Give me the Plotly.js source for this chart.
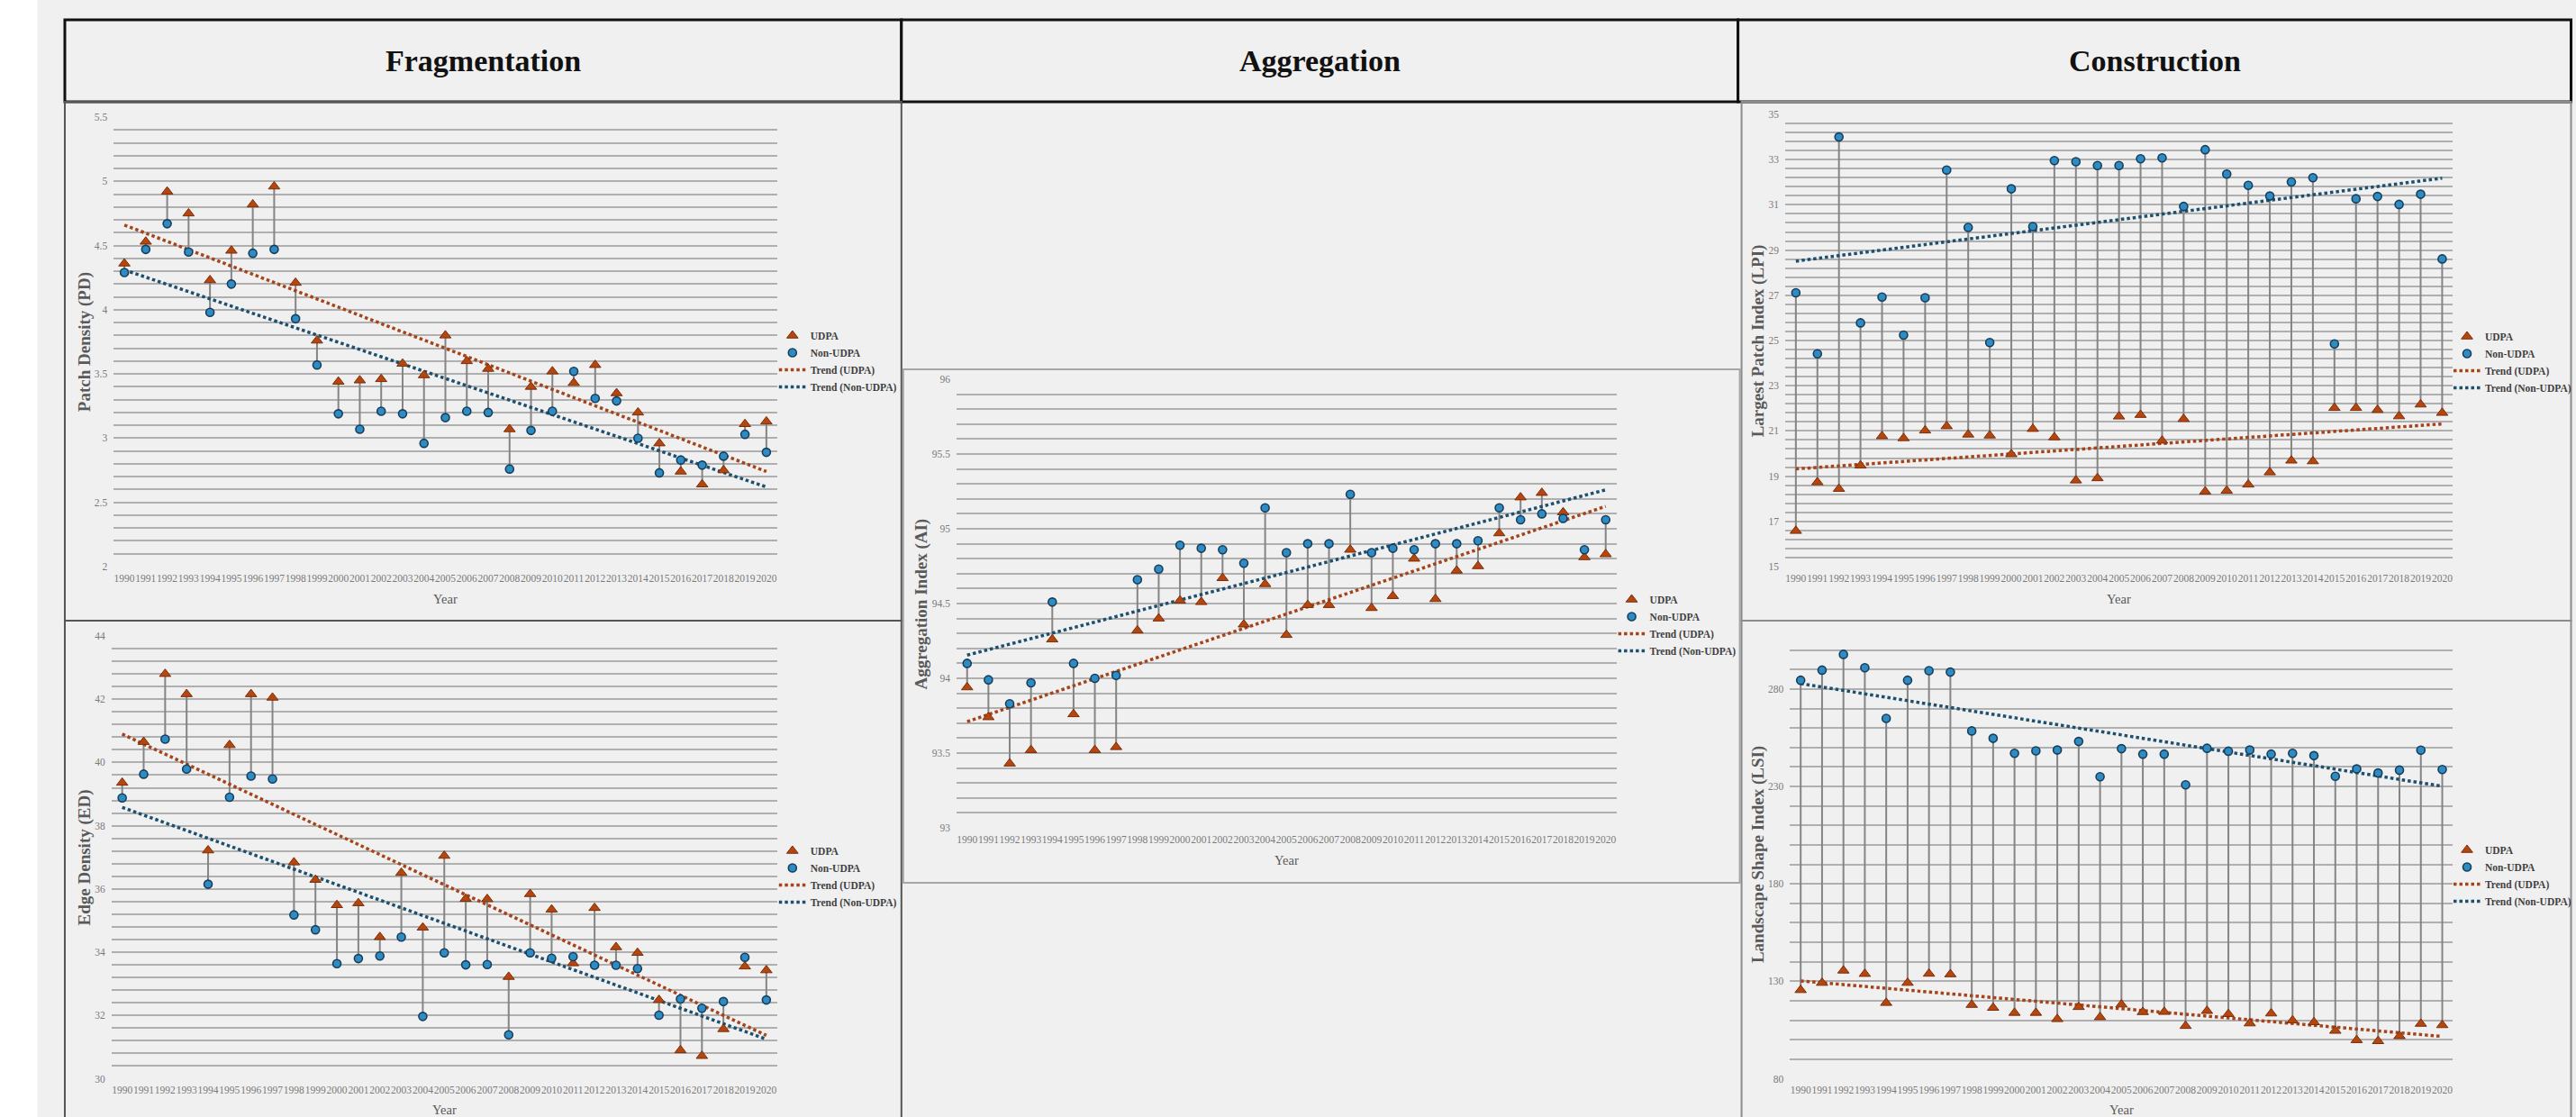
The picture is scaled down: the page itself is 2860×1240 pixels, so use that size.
<!DOCTYPE html>
<html><head><meta charset="utf-8">
<script src="https://cdn.plot.ly/plotly-3.0.1.min.js"></script>
<style>html,body{margin:0;padding:0;background:#f0f0f0;overflow:hidden;} #chart{width:2860px;height:1240px;}</style>
</head><body><div id="chart"></div>
<script>
// ---------------- DATA ----------------
const years = [1990,1991,1992,1993,1994,1995,1996,1997,1998,1999,2000,2001,2002,2003,2004,2005,2006,2007,2008,2009,2010,2011,2012,2013,2014,2015,2016,2017,2018,2019,2020];
const trendYears = [1990, 2020];

const pdUDPA = [4.36,4.53,4.92,4.75,4.23,4.46,4.82,4.96,4.21,3.76,3.44,3.45,3.46,3.58,3.49,3.80,3.60,3.54,3.07,3.40,3.52,3.43,3.57,3.35,3.20,2.96,2.74,2.64,2.75,3.11,3.13];
const pdNon  = [4.29,4.47,4.67,4.45,3.98,4.20,4.44,4.47,3.93,3.57,3.19,3.07,3.21,3.19,2.96,3.16,3.21,3.20,2.76,3.06,3.21,3.52,3.31,3.29,3.00,2.73,2.83,2.79,2.86,3.03,2.89];
const pdTrendU = [4.66, 2.74];
const pdTrendN = [4.31, 2.62];

const edUDPA = [39.36,40.65,42.80,42.16,37.22,40.55,42.16,42.05,36.84,36.29,35.49,35.55,34.48,36.51,34.78,37.05,35.69,35.68,33.22,35.84,35.35,33.65,35.40,34.16,33.98,32.49,30.90,30.72,31.57,33.55,33.43];
const edNon  = [38.88,39.63,40.74,39.79,36.15,38.90,39.57,39.48,35.18,34.71,33.64,33.80,33.88,34.48,31.97,33.98,33.60,33.61,31.39,33.98,33.81,33.86,33.59,33.59,33.48,32.01,32.52,32.23,32.44,33.84,32.49];
const edTrendU = [40.90, 31.37];
const edTrendN = [38.58, 31.25];

const aiUDPA = [93.94,93.74,93.43,93.52,94.26,93.76,93.52,93.54,94.32,94.40,94.52,94.51,94.67,94.36,94.63,94.29,94.49,94.49,94.86,94.47,94.55,94.80,94.53,94.72,94.75,94.97,95.21,95.24,95.11,94.81,94.83];
const aiNon  = [94.10,93.99,93.83,93.97,94.51,94.10,94.00,94.02,94.66,94.73,94.89,94.87,94.86,94.77,95.14,94.84,94.90,94.90,95.23,94.84,94.87,94.86,94.90,94.90,94.92,95.14,95.06,95.10,95.07,94.86,95.06];
const aiTrendU = [93.71, 95.15];
const aiTrendN = [94.155, 95.26];

const lpiUDPA = [16.58,18.73,18.44,19.47,20.77,20.68,21.02,21.21,20.84,20.80,19.97,21.09,20.72,18.81,18.91,21.64,21.71,20.57,21.53,18.32,18.36,18.63,19.17,19.69,19.66,22.02,22.02,21.93,21.65,22.17,21.80];
const lpiNon  = [27.11,24.41,34.00,25.78,26.92,25.24,26.89,32.54,30.00,24.91,31.71,30.04,32.96,32.91,32.74,32.74,33.04,33.08,30.93,33.44,32.36,31.86,31.39,32.01,32.20,24.85,31.27,31.37,31.02,31.47,28.61];
const lpiTrendU = [19.32, 21.31];
const lpiTrendN = [28.51, 32.18];

const lsiUDPA = [125.5,129.2,135.5,133.8,118.9,129.2,133.9,133.6,117.9,116.4,113.8,113.8,110.6,116.8,111.6,118.1,114.2,114.3,107.1,114.8,113.2,108.4,113.5,109.9,109.0,104.6,99.8,99.3,101.9,108.2,107.5];
const lsiNon  = [284.5,289.7,297.8,290.9,264.9,284.5,289.4,288.7,258.5,254.7,247.0,248.3,248.7,253.1,235.0,249.4,246.6,246.6,230.8,249.6,248.1,248.7,246.6,247.0,245.8,235.2,239.0,236.9,238.4,248.6,238.7];
const lsiTrendU = [130.2, 101.7];
const lsiTrendN = [282.8, 230.1];

const seriesNames = ['UDPA', 'Non-UDPA', 'Trend (UDPA)', 'Trend (Non-UDPA)'];
const headers = ['Fragmentation', 'Aggregation', 'Construction'];
const yTitles = ['Patch Density (PD)', 'Edge Density (ED)', 'Aggregation Index (AI)', 'Largest Patch Index (LPI)', 'Landscape Shape Index (LSI)'];

// ---------------- LAYOUT HELPERS ----------------
const W = 2860, H = 1240;
const px = p => p / W;
const py = p => 1 - p / H;
const SERIF = '"Liberation Serif", "Times New Roman", serif';
const C_UDPA = '#b5460f', C_UDPA_LINE = '#7a2e08';
const C_NON = '#2f8cc2', C_NON_LINE = '#173e5c';
const C_TU = '#a5441a', C_TN = '#1d4f6e';
const GRID = '#afafaf';
const TICKC = '#7a7a7a';

const panels = [
  {u: pdUDPA, n: pdNon, tu: pdTrendU, tn: pdTrendN, title: yTitles[0],
   dx: [128, 875], dy: [130, 629], yr: [2, 5.5], dt: 0.5, t0: 2, mn: 0.1,
   titleX: 95, leg: [872, 358], yearY: 665},
  {u: edUDPA, n: edNon, tu: edTrendU, tn: edTrendN, title: yTitles[1],
   dx: [125.5, 875], dy: [706, 1197.5], yr: [30, 44], dt: 2, t0: 30, mn: 0.4,
   titleX: 95, leg: [872, 930], yearY: 1232},
  {u: aiUDPA, n: aiNon, tu: aiTrendU, tn: aiTrendN, title: yTitles[2],
   dx: [1077, 1820], dy: [421, 919], yr: [93, 96], dt: 0.5, t0: 93, mn: 0.1,
   titleX: 1038, leg: [1817, 651], yearY: 955},
  {u: lpiUDPA, n: lpiNon, tu: lpiTrendU, tn: lpiTrendN, title: yTitles[3],
   dx: [2010, 2762], dy: [127, 629], yr: [15, 35], dt: 2, t0: 15, mn: 0.4,
   titleX: 1980, leg: [2758, 359], yearY: 665},
  {u: lsiUDPA, n: lsiNon, tu: lsiTrendU, tn: lsiTrendN, title: yTitles[4],
   dx: [2015.5, 2762], dy: [700, 1197.5], yr: [80, 310], dt: 50, t0: 80, mn: 10,
   titleX: 1979, leg: [2758, 929], yearY: 1232}
];

const traces = [];
const layout = {
  width: W, height: H,
  margin: {l: 0, r: 0, t: 0, b: 0},
  paper_bgcolor: '#f0f0f0',
  plot_bgcolor: 'rgba(0,0,0,0)',
  showlegend: true,
  font: {family: SERIF, color: '#595959'},
  shapes: [], annotations: []
};

panels.forEach((p, i) => {
  const k = i === 0 ? '' : String(i + 1);
  const xa = 'x' + k, ya = 'y' + k;
  const legName = 'legend' + k;
  const eps = (p.yr[1] - p.yr[0]) * 1e-5;
  layout['xaxis' + k] = {
    domain: [px(p.dx[0]), px(p.dx[1])], anchor: ya,
    range: [1989.5, 2020.5], tickmode: 'array', tickvals: years, ticktext: years.map(String),
    showgrid: false, zeroline: false, showline: false, ticks: '', ticklabelstandoff: 4,
    tickfont: {family: SERIF, size: 11.5, color: TICKC}, tickangle: 0, fixedrange: true
  };
  layout['yaxis' + k] = {
    domain: [py(p.dy[1]), py(p.dy[0])], anchor: xa,
    range: [p.yr[0] - eps, p.yr[1] + eps], tick0: p.t0, dtick: p.dt,
    showgrid: true, gridcolor: GRID, gridwidth: 2,
    minor: {tick0: p.t0, dtick: p.mn, showgrid: true, gridcolor: GRID, gridwidth: 2, ticks: ''},
    zeroline: false, showline: false, ticks: '', ticklabelstandoff: 6,
    tickfont: {family: SERIF, size: 11.5, color: TICKC}, fixedrange: true
  };
  layout[legName] = {
    x: px(p.leg[0]), y: py(p.leg[1]), xanchor: 'left', yanchor: 'top',
    bgcolor: 'rgba(0,0,0,0)', borderwidth: 0, traceorder: 'normal',
    font: {family: SERIF, size: 11.5, color: '#404040', weight: 'bold'},
    itemwidth: 30, tracegroupgap: 0
  };

  // high-low drop lines
  const lx = [], ly = [];
  years.forEach((yv, j) => { lx.push(yv, yv, null); ly.push(p.u[j], p.n[j], null); });
  traces.push({x: lx, y: ly, xaxis: xa, yaxis: ya, mode: 'lines', type: 'scatter',
    line: {color: '#858585', width: 2}, hoverinfo: 'skip', showlegend: false});
  // trend lines
  traces.push({x: trendYears, y: p.tu, xaxis: xa, yaxis: ya, mode: 'lines', type: 'scatter',
    name: seriesNames[2], legend: legName, legendrank: 3,
    line: {color: C_TU, width: 3.5, dash: '3.5px,3px'}});
  traces.push({x: trendYears, y: p.tn, xaxis: xa, yaxis: ya, mode: 'lines', type: 'scatter',
    name: seriesNames[3], legend: legName, legendrank: 4,
    line: {color: C_TN, width: 3.5, dash: '3.5px,3px'}});
  // markers
  traces.push({x: years, y: p.u, xaxis: xa, yaxis: ya, mode: 'markers', type: 'scatter',
    name: seriesNames[0], legend: legName, legendrank: 1,
    marker: {symbol: 'triangle-up', size: 11, color: C_UDPA, line: {color: C_UDPA_LINE, width: 1}}});
  traces.push({x: years, y: p.n, xaxis: xa, yaxis: ya, mode: 'markers', type: 'scatter',
    name: seriesNames[1], legend: legName, legendrank: 2,
    marker: {symbol: 'circle', size: 9, color: C_NON, line: {color: C_NON_LINE, width: 1.6}}});

  // axis titles
  layout.annotations.push({xref: 'paper', yref: 'paper', x: px(p.titleX), y: py((p.dy[0] + p.dy[1]) / 2),
    text: p.title, textangle: -90, showarrow: false, xanchor: 'center', yanchor: 'middle',
    font: {family: SERIF, size: 19, color: '#595959', weight: 'bold'}});
  layout.annotations.push({xref: 'paper', yref: 'paper', x: px((p.dx[0] + p.dx[1]) / 2), y: py(p.yearY),
    text: 'Year', showarrow: false, xanchor: 'center', yanchor: 'middle',
    font: {family: SERIF, size: 14.5, color: '#595959'}});
});

// headers
const headerCells = [[73, 1015], [1015, 1957], [1957, 2895]];
headerCells.forEach((c, i) => {
  layout.shapes.push({type: 'rect', xref: 'paper', yref: 'paper', layer: 'below',
    x0: px(c[0]), x1: px(c[1]), y0: py(113), y1: py(22),
    line: {color: '#111111', width: 3}, fillcolor: '#f0f0f0'});
  layout.annotations.push({xref: 'paper', yref: 'paper', x: px(i === 2 ? 2426 : (c[0] + c[1]) / 2), y: py(68),
    text: headers[i], showarrow: false, xanchor: 'center', yanchor: 'middle',
    font: {family: SERIF, size: 34, color: '#111111', weight: 'bold'}});
});
// white strip at left
layout.shapes.push({type: 'rect', xref: 'paper', yref: 'paper', layer: 'below',
  x0: 0, x1: px(42), y0: 0, y1: 1, line: {width: 0}, fillcolor: '#ffffff'});
// panel boxes
const boxes = [
  [73, 113, 1015, 689, '#555555'], [73, 689, 1015, 1242, '#555555'],
  [1017, 410, 1959, 980, '#a6a6a6'],
  [1961, 113, 2895, 689, '#8c8c8c'], [1961, 689, 2895, 1242, '#8c8c8c']
];
boxes.forEach(b => layout.shapes.push({type: 'rect', xref: 'paper', yref: 'paper', layer: 'below',
  x0: px(b[0]), x1: px(b[2]), y0: py(b[3]), y1: py(b[1]), line: {color: b[4], width: 2}, fillcolor: 'rgba(0,0,0,0)'}));

Plotly.newPlot('chart', traces, layout, {staticPlot: true, displayModeBar: false});
</script>
</body></html>
